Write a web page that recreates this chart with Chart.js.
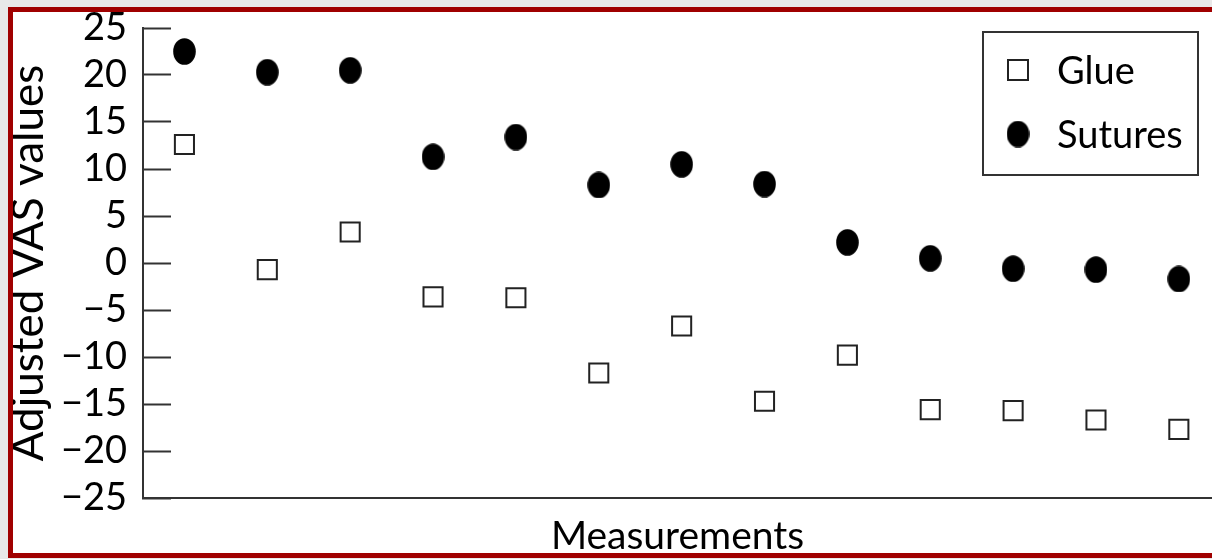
<!DOCTYPE html>
<html>
<head>
<meta charset="utf-8">
<script src="https://cdn.jsdelivr.net/npm/chart.js@4.4.1/dist/chart.umd.min.js"></script>
<style>
  html, body { margin: 0; padding: 0; background: #e8e8e8; overflow: hidden; }
  .frame {
    position: absolute; left: 8px; top: 7px;
    width: 1220px; height: 541px;
    border-top: 5px solid #a00000; border-left: 5px solid #a00000; border-bottom: 5px solid #a00000;
    background: #fff; overflow: hidden;
  }
  .frame canvas { position: absolute; left: 0; top: 0; }
</style>
</head>
<body>
<div class="frame">
  <canvas id="vasChart" width="1199" height="541"></canvas>
</div>
<script>
document.addEventListener('DOMContentLoaded', function() {

    // Data
    const measurements = [1, 2, 3, 4, 5, 6, 7, 8, 9, 10, 11, 12, 13];
    const glueValues = [12.6, -0.7, 3.3, -3.6, -3.7, -11.7, -6.7, -14.7, -9.8, -15.6, -15.7, -16.7, -17.7];
    const sutureValues = [22.5, 20.3, 20.5, 11.3, 13.4, 8.3, 10.5, 8.4, 2.2, 0.5, -0.6, -0.7, -1.7];
    const yTicks = [-25, -20, -15, -10, -5, 0, 5, 10, 15, 20, 25];

    const fontFamily = 'Lato, "Open Sans", sans-serif';
    const ink = '#222';

    // filled ellipse marker for the sutures series
    const dot = document.createElement('canvas');
    dot.width = 23;
    dot.height = 27;
    const dctx = dot.getContext('2d');
    dctx.fillStyle = '#000';
    dctx.beginPath();
    dctx.ellipse(11.5, 13.5, 11.3, 13.3, 0, 0, Math.PI * 2);
    dctx.fill();

    const toPoints = (vals) => vals.map((v, i) => ({ x: measurements[i], y: v }));

    // legend box in the upper right corner
    const boxLegend = {
        id: 'boxLegend',
        afterDraw(chart) {
            const ctx = chart.ctx;
            ctx.save();
            ctx.strokeStyle = '#333';
            ctx.lineWidth = 2;
            ctx.strokeRect(970, 20, 215, 143);
            const rows = [58, 122];
            chart.data.datasets.forEach((ds, i) => {
                const y = rows[i];
                if (ds.pointStyle instanceof HTMLCanvasElement) {
                    ctx.drawImage(ds.pointStyle, 1005 - ds.pointStyle.width / 2, y - ds.pointStyle.height / 2);
                } else {
                    ctx.strokeStyle = ink;
                    ctx.lineWidth = 2;
                    ctx.strokeRect(995, y - 10, 20, 20);
                }
                ctx.fillStyle = '#000';
                ctx.font = '38px ' + fontFamily;
                ctx.textAlign = 'left';
                ctx.textBaseline = 'middle';
                ctx.fillText(ds.label, 1044, y + 2);
            });
            ctx.restore();
        }
    };

    const config = {
        type: 'scatter',
        data: {
            datasets: [{
                label: 'Glue',
                data: toPoints(glueValues),
                pointStyle: 'rect',
                pointRadius: 13.5,
                pointBorderWidth: 2,
                pointBorderColor: ink,
                pointBackgroundColor: '#fff'
            }, {
                label: 'Sutures',
                data: toPoints(sutureValues),
                pointStyle: dot,
                pointRadius: 12
            }]
        },
        options: {
            responsive: false,
            animation: false,
            layout: { autoPadding: false, padding: { top: 16, left: 0, right: 0, bottom: 0 } },
            plugins: {
                legend: { display: false },
                tooltip: { enabled: false }
            },
            scales: {
                x: {
                    type: 'linear',
                    min: 0.5,
                    max: 13.4,
                    ticks: { display: false },
                    grid: { display: false },
                    border: { display: true, color: '#333', width: 2 },
                    title: {
                        display: true,
                        text: 'Measurements',
                        color: '#000',
                        font: { family: fontFamily, size: 39, lineHeight: 1 },
                        padding: { top: 0, bottom: -3 }
                    },
                    afterFit(s) { s.height = 55; s.paddingLeft = 0; s.paddingRight = 0; }
                },
                y: {
                    min: -25,
                    max: 25,
                    afterBuildTicks(s) { s.ticks = yTicks.map(v => ({ value: v })); },
                    ticks: {
                        color: '#000',
                        padding: 44,
                        font: { family: fontFamily, size: 38, lineHeight: 0.8 },
                        callback: (v) => String(v).replace('-', '\u2212')
                    },
                    grid: {
                        drawOnChartArea: false,
                        drawTicks: true,
                        tickLength: -28,
                        tickWidth: 2,
                        tickColor: '#333'
                    },
                    border: { display: true, color: '#333', width: 2 },
                    title: {
                        display: true,
                        text: 'Adjusted VAS values',
                        color: '#000',
                        font: { family: fontFamily, size: 44, lineHeight: 1 },
                        padding: { top: -6, bottom: 0 }
                    },
                    afterFit(s) { s.width = 130; s.paddingTop = 0; s.paddingBottom = 0; }
                }
            }
        },
        plugins: [boxLegend]
    };

    new Chart(document.getElementById('vasChart').getContext('2d'), config);

});
</script>
</body>
</html>
